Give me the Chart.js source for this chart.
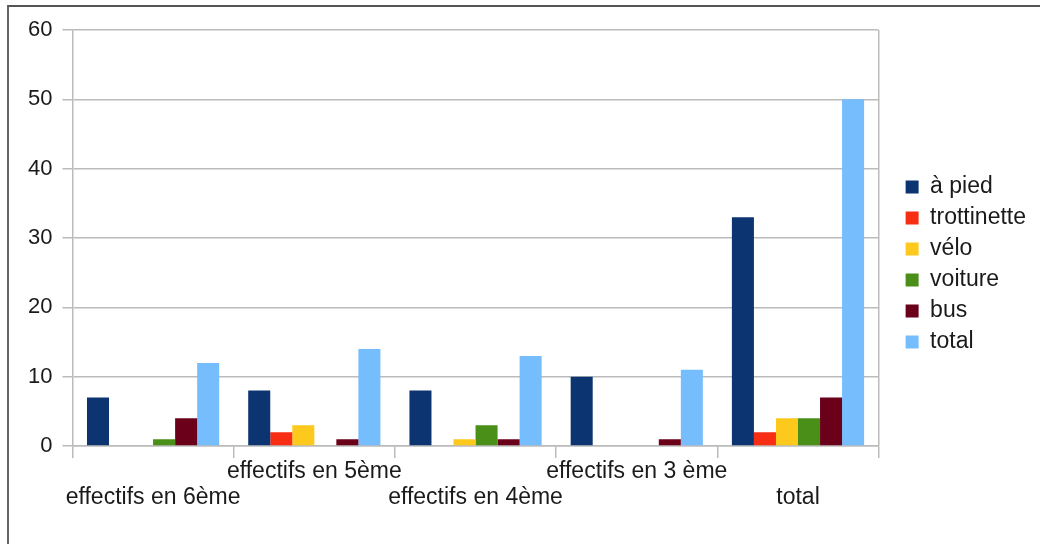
<!DOCTYPE html>
<html>
<head>
<meta charset="utf-8">
<script src="https://cdn.jsdelivr.net/npm/chart.js@4/dist/chart.umd.min.js"></script>
<style>
  html, body { margin: 0; padding: 0; background: #fff; }
  #wrap { position: absolute; left: 0; top: 0; width: 1040px; height: 544px; }
  #frame { position: absolute; left: 7px; top: 5px; width: 1040px; height: 560px; border-left: 2px solid #666; border-top: 2px solid #555; box-sizing: border-box; pointer-events: none; }
</style>
</head>
<body>
<div id="wrap"><canvas id="c" width="1040" height="544"></canvas></div>
<div id="frame"></div>
<script>
const categories = ["effectifs en 6ème", "effectifs en 5ème", "effectifs en 4ème", "effectifs en 3 ème", "total"];
const seriesNames = ["à pied", "trottinette", "vélo", "voiture", "bus", "total"];
const aPied       = [7, 8, 8, 10, 33];
const trottinette = [0, 2, 0, 0, 2];
const velo        = [0, 3, 1, 0, 4];
const voiture     = [1, 0, 3, 0, 4];
const bus         = [4, 1, 1, 1, 7];
const totalSerie  = [12, 14, 13, 11, 50];
const yTicks = [0, 10, 20, 30, 40, 50, 60];

const colors = ["#0c3470", "#f82e14", "#fdc91d", "#4a8f17", "#6a001a", "#76bdfd"];
const values = [aPied, trottinette, velo, voiture, bus, totalSerie];

const FONT = "'Liberation Sans', Arial, sans-serif";
const gridColor = "#bbbbbb";
const textColor = "#1a1a1a";

const legendNudge = {
  id: "legendNudge",
  afterLayout(chart) {
    if (chart.legend) { chart.legend.top -= 6; chart.legend.bottom -= 6; }
  }
};

new Chart(document.getElementById("c"), {
  type: "bar",
  data: {
    labels: categories,
    datasets: seriesNames.map((n, i) => ({
      label: n,
      data: values[i],
      backgroundColor: colors[i],
      borderWidth: 0,
      barPercentage: 1.0,
      categoryPercentage: 0.82,
      yAxisID: "y"
    }))
  },
  plugins: [legendNudge],
  options: {
    responsive: false,
    animation: false,
    devicePixelRatio: 1,
    layout: { padding: { left: 18, right: 4, top: 30, bottom: 33 } },
    plugins: {
      legend: {
        position: "right",
        labels: {
          boxWidth: 13, boxHeight: 13,
          padding: 8,
          color: textColor,
          font: { family: FONT, size: 23 }
        }
      },
      tooltip: { enabled: false }
    },
    scales: {
      x: {
        offset: true,
        grid: {
          offset: true,
          drawOnChartArea: true,
          color: (ctx) => ctx.tick ? "rgba(0,0,0,0)" : gridColor,
          tickColor: gridColor,
          tickLength: 12,
          lineWidth: 1.5
        },
        border: { color: gridColor, width: 1.5 },
        ticks: {
          autoSkip: false,
          maxRotation: 0,
          minRotation: 0,
          color: textColor,
          font: { family: FONT, size: 23, lineHeight: 1.15 },
          padding: 0,
          callback: (v, i) => i % 2 === 0 ? ["", categories[i]] : [categories[i], ""]
        }
      },
      y: {
        min: 0, max: 60,
        afterBuildTicks: (axis) => { axis.ticks = yTicks.map(v => ({ value: v })); },
        grid: { color: gridColor, tickColor: gridColor, tickLength: 10, lineWidth: 1.5 },
        border: { color: gridColor, width: 1.5 },
        ticks: {
          color: textColor,
          font: { family: FONT, size: 22 },
          padding: 10
        }
      },
      gap: {
        position: "right",
        display: true,
        afterFit: (s) => { s.width = 19; },
        grid: { display: false, drawTicks: false },
        border: { display: false },
        ticks: { display: false }
      }
    }
  }
});
</script>
</body>
</html>
